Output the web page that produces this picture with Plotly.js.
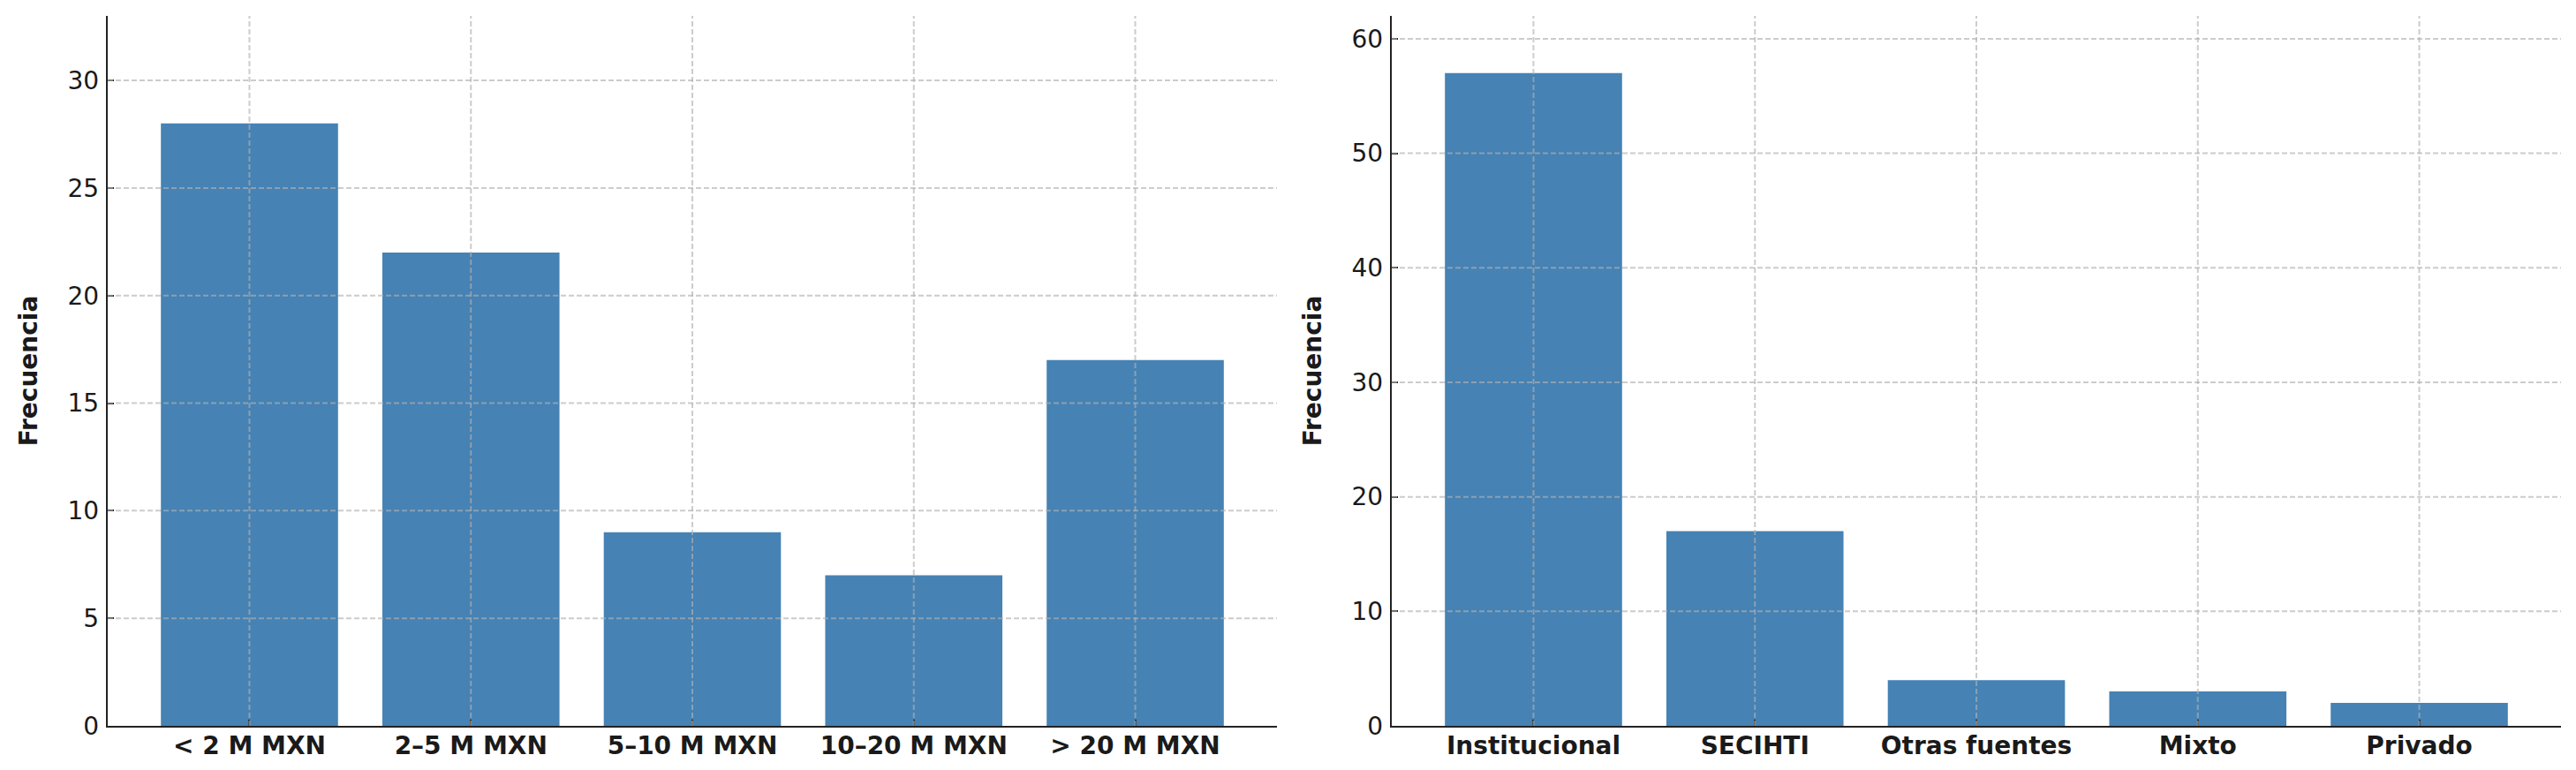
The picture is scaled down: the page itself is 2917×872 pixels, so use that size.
<!DOCTYPE html>
<html>
<head>
<meta charset="utf-8">
<script src="https://cdn.plot.ly/plotly-3.0.1.min.js"></script>
<style>html,body{margin:0;padding:0;background:#fff;}#chart{width:2917px;height:872px;}</style>
</head>
<body>
<div id="chart"></div>
<script>
// Data
const montoCategories = ["< 2 M MXN", "2–5 M MXN", "5–10 M MXN", "10–20 M MXN", "> 20 M MXN"];
const montoValues = [28, 22, 9, 7, 17];
const fuenteCategories = ["Institucional", "SECIHTI", "Otras fuentes", "Mixto", "Privado"];
const fuenteValues = [57, 17, 4, 3, 2];
const leftYTicks = [0, 5, 10, 15, 20, 25, 30];
const rightYTicks = [0, 10, 20, 30, 40, 50, 60];
const yTitle = "Frecuencia";

const W = 2917, H = 872;
const barColor = "#4682B4";
const axisColor = "#222222";
const gridColor = "rgba(176,176,176,0.65)";
const tickFont = {family: "DejaVu Sans", size: 28, color: "#1a1a1a"};
const catFont = {family: "DejaVu Sans", size: 28, color: "#1a1a1a", weight: "bold"};

const traces = [
  {type: "bar", x: montoCategories, y: montoValues, xaxis: "x", yaxis: "y",
   marker: {color: barColor, line: {width: 0}}, width: 0.8, hoverinfo: "x+y"},
  {type: "bar", x: fuenteCategories, y: fuenteValues, xaxis: "x2", yaxis: "y2",
   marker: {color: barColor, line: {width: 0}}, width: 0.8, hoverinfo: "x+y"}
];

function xAxis(domain, anchor) {
  return {
    domain: domain, anchor: anchor, type: "category",
    range: [-0.64, 4.64], showgrid: false, zeroline: false,
    showline: true, linecolor: axisColor, linewidth: 2.2,
    ticks: "inside", ticklen: 7, tickwidth: 2, tickcolor: axisColor,
    tickfont: catFont, ticklabelstandoff: -4, fixedrange: true
  };
}
function yAxis(anchor, range, ticks) {
  return {
    anchor: anchor, domain: [0, 1], range: range,
    tickmode: "array", tickvals: ticks, ticktext: ticks.map(String),
    showgrid: false, zeroline: false,
    showline: true, linecolor: axisColor, linewidth: 2.2,
    ticks: "inside", ticklen: 7, tickwidth: 2, tickcolor: axisColor,
    tickfont: tickFont, ticklabelstandoff: 2,
    title: {text: yTitle, font: {family: "DejaVu Sans", size: 28, color: "#1a1a1a", weight: "bold"}, standoff: 26},
    fixedrange: true
  };
}

// grid lines drawn above bars (as in reference), derived from categories and tick arrays
const shapes = [];
function addGrid(xref, yref, cats, yticks) {
  const lineStyle = {color: gridColor, width: 2, dash: "6px,3px"};
  cats.forEach(c => shapes.push({type: "line", layer: "above", xref: xref, yref: yref + " domain",
    x0: c, x1: c, y0: 0, y1: 1, line: lineStyle}));
  yticks.filter(v => v !== 0).forEach(v => shapes.push({type: "line", layer: "above", xref: xref + " domain", yref: yref,
    x0: 0, x1: 1, y0: v, y1: v, line: lineStyle}));
}
addGrid("x", "y", montoCategories, leftYTicks);
addGrid("x2", "y2", fuenteCategories, rightYTicks);

const layout = {
  width: W, height: H,
  margin: {l: 0, r: 0, t: 18, b: 50, autoexpand: false},
  paper_bgcolor: "#ffffff", plot_bgcolor: "#ffffff",
  showlegend: false, bargap: 0.2,
  xaxis: xAxis([122 / W, 1446 / W], "y"),
  yaxis: yAxis("x", [0, 33], leftYTicks),
  xaxis2: xAxis([1576 / W, 2900 / W], "y2"),
  yaxis2: yAxis("x2", [0, 62], rightYTicks),
  shapes: shapes,
  font: {family: "DejaVu Sans"}
};

Plotly.newPlot("chart", traces, layout, {displayModeBar: false, staticPlot: true});
</script>
</body>
</html>
